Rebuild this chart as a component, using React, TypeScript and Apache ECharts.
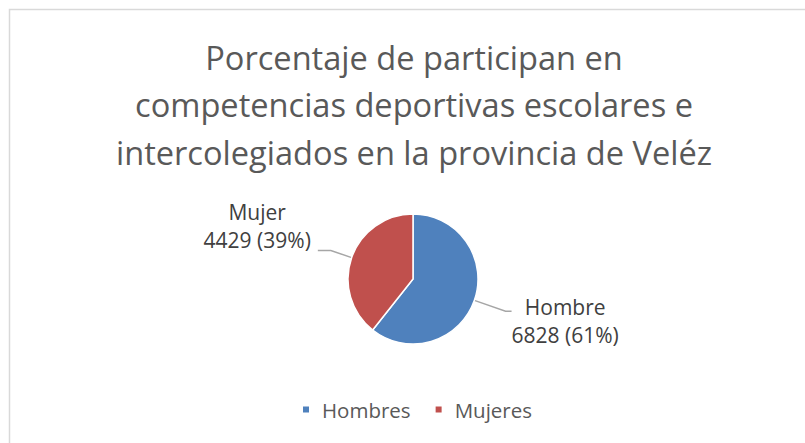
import React, { useEffect, useRef } from "react";
import * as echarts from "echarts";

const titleText = "Porcentaje de participan en\ncompetencias deportivas escolares e\nintercolegiados en la provincia de Veléz";
const legendNames = ["Hombres", "Mujeres"];
const labelNames = ["Hombre", "Mujer"];
const values = [6828, 4429];
const percents = [61, 39];
const colors = ["#4f81bd", "#c0504d"];

export default function App() {
  const ref = useRef<HTMLDivElement>(null);
  useEffect(() => {
    if (!ref.current) return;
    const chart = echarts.init(ref.current, null, { renderer: "svg" });
    const font = "'Open Sans', sans-serif";
    const perItem = [
      {
        label: { padding: [19, 0, 0, 0], distanceToLabelLine: 0 },
        labelLine: { length: 33, length2: 6 },
      },
      {
        label: { padding: [0, 0, 48, 0], distanceToLabelLine: 7 },
        labelLine: { length: 22, length2: 13 },
      },
    ];
    chart.setOption({
      animation: false,
      backgroundColor: "#ffffff",
      graphic: [
        {
          type: "rect",
          shape: { x: 9.5, y: 9.5, width: 820, height: 460 },
          style: { fill: "none", stroke: "#d9d9d9", lineWidth: 1.5 },
          silent: true,
        },
      ],
      title: {
        text: titleText,
        left: 409,
        textAlign: "center",
        top: 29,
        textStyle: {
          fontFamily: font,
          fontSize: 32.6,
          fontWeight: "normal",
          color: "#595959",
          lineHeight: 47.3,
          align: "center",
        },
      },
      legend: {
        data: legendNames,
        bottom: 18,
        left: 296,
        icon: "rect",
        itemWidth: 8,
        itemHeight: 8,
        itemGap: 23,
        textStyle: {
          fontFamily: font,
          fontSize: 20.5,
          color: "#595959",
          padding: [0, 0, 0, 7],
        },
      },
      series: [
        {
          type: "pie",
          center: [413, 279],
          radius: 65,
          startAngle: 90,
          clockwise: true,
          itemStyle: { borderColor: "#ffffff", borderWidth: 1.5 },
          label: {
            show: true,
            position: "outside",
            fontFamily: font,
            fontSize: 21,
            color: "#404040",
            formatter: (p: any) =>
              `{a|${labelNames[p.dataIndex]}}\n{a|${values[p.dataIndex]} (${percents[p.dataIndex]}%)}`,
            rich: {
              a: {
                fontFamily: font,
                fontSize: 21,
                color: "#404040",
                lineHeight: 28,
                align: "center",
              },
            },
          },
          labelLine: {
            show: true,
            length: 22,
            length2: 12,
            lineStyle: { color: "#a6a6a6", width: 1.5 },
          },
          data: legendNames.map((n, i) => ({
            name: n,
            value: values[i],
            itemStyle: { color: colors[i] },
            label: perItem[i].label,
            labelLine: perItem[i].labelLine,
          })),
        },
      ],
    });
    return () => chart.dispose();
  }, []);
  return (
    <div
      ref={ref}
      style={{ position: "fixed", left: 0, top: 0, width: 805, height: 443 }}
    />
  );
}
